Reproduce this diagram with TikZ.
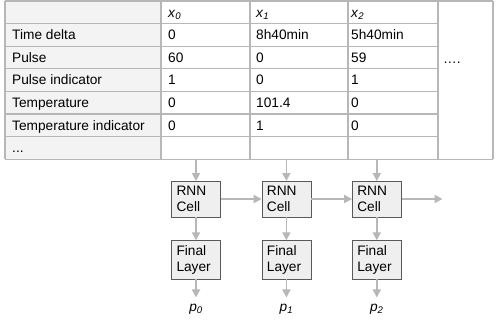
\documentclass[tikz,border=0pt]{standalone}
\usepackage{fontspec}
\setmainfont{Liberation Sans}
\usepackage{xcolor}
\usepackage{tikz}
\usetikzlibrary{arrows.meta, positioning, calc}
\definecolor{gridgray}{HTML}{B7B7B7}
\definecolor{cellgray}{HTML}{F3F3F3}
\definecolor{boxfill}{HTML}{EFEFEF}
\definecolor{boxline}{HTML}{595959}
\tikzstyle{cell} = [anchor=base west, inner sep=0pt, font=\fontsize{13.7}{16}\selectfont]
\tikzstyle{grid} = [draw=gridgray, line width=1.2pt]
\tikzstyle{process} = [rectangle, minimum width=49pt, minimum height=35.5pt, text width=39pt, inner sep=5pt, align=left, draw=boxline, fill=boxfill, font=\fontsize{13.7}{16}\selectfont]
\tikzstyle{output} = [inner sep=0pt, font=\fontsize{13.7}{16}\selectfont]
\tikzstyle{arrow} = [line width=1.8pt, draw=gridgray, -{Triangle[length=8pt,width=8pt]}]
\newcommand{\xsub}[2]{\textit{#1}\textsubscript{\textit{#2}}}
\newcommand{\rowdots}{...}

\begin{document}
\begin{tikzpicture}[x=1pt, y=-1pt]
\useasboundingbox (0,0) rectangle (500,333);
\fill[cellgray] (5,1) rectangle (161,159.2);
\foreach \y in {23.6,46.2,68.8,91.4,114,136.6} \draw[grid] (5,\y) -- (438,\y);
\draw[grid] (5,1) -- (493,1);
\draw[grid] (5,159.2) -- (493,159.2);
\foreach \x in {5,161,250,348,438,493} \draw[grid] (\x,1) -- (\x,159.2);

\foreach \r/\lab/\va/\vb/\vc in {0//\xsub{x}{0}/\xsub{x}{1}/\xsub{x}{2}, 1/Time delta/0/8h40min/5h40min, 2/Pulse/60/0/59, 3/Pulse indicator/1/0/1, 4/Temperature/0/101.4/0, 5/Temperature indicator/0/1/0, 6/\rowdots/ / / }{
  \node[cell] (lab\r) at (12,{17+22.6*\r}) {\lab};
  \node[cell] (va\r) at (168,{17+22.6*\r}) {\va};
  \node[cell] (vb\r) at (256,{17+22.6*\r}) {\vb};
  \node[cell] (vc\r) at (351,{17+22.6*\r}) {\vc};
}
\node[cell] (more) at (443,63) {….};

\coordinate (tbot) at (0,160);
\node (rnn0) [process] at (196,199) {RNN\\Cell};
\node (rnn1) [process, right=41pt of rnn0] {RNN\\Cell};
\node (rnn2) [process, right=41pt of rnn1] {RNN\\Cell};
\coordinate (out) at ($(rnn2.east)+(41,0)$);

\foreach \i in {0,1,2}{
  \node (fin\i) [process, below=23.3pt of rnn\i] {Final\\Layer};
  \node (p\i) [output, below=24pt of fin\i] {\xsub{p}{\i}};
  \draw [arrow] (rnn\i |- tbot) -- (rnn\i);
  \draw [arrow] (rnn\i) -- (fin\i);
  \draw [arrow, shorten >=6pt] (fin\i) -- (p\i);
}
\draw [arrow] (rnn0) -- (rnn1);
\draw [arrow] (rnn1) -- (rnn2);
\draw [arrow] (rnn2) -- (out);
\end{tikzpicture}
\end{document}
